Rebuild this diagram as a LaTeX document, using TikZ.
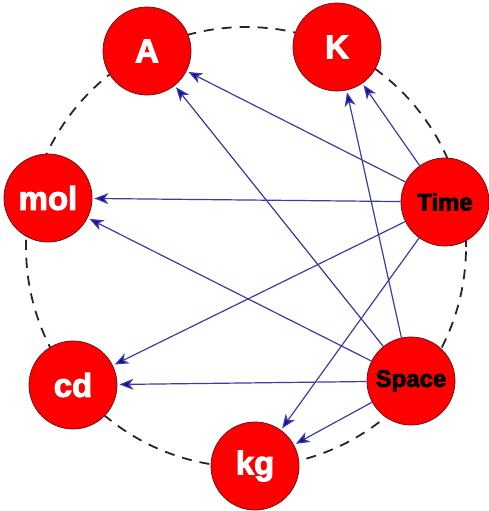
\documentclass[tikz,border=0pt]{standalone}
\usepackage{fontspec}
\setmainfont{Liberation Sans}
\newfontfamily\heavyfont{Liberation Sans Bold}[FakeBold=3]
\usetikzlibrary{arrows.meta}
\definecolor{unitred}{RGB}{255,0,0}
\definecolor{unitedge}{RGB}{110,20,30}
\definecolor{linkblue}{RGB}{60,60,165}
\definecolor{headblue}{RGB}{15,15,165}

\begin{document}
\begin{tikzpicture}[x=1pt,y=-1pt,
  unit/.style={circle,fill=unitred,draw=unitedge,line width=0.8pt,minimum size=88pt,inner sep=0pt,
    text=white,font=\fontsize{33}{33}\heavyfont},
  base/.style={unit,text=black,font=\fontsize{24}{24}\heavyfont},
  link/.style={draw=linkblue,line width=1.2pt,shorten >=2pt,
    -{Stealth[length=14pt,width=11pt,inset=4pt,fill=headblue]}}]
\useasboundingbox (0,0) rectangle (488,511);
\draw[dash pattern=on 10pt off 8pt,line width=1.8pt,black!85] (246,247) circle (220pt);
% units around the ring
\node[unit] (A) at (147,51) {A};
\node[unit] (K) at (337,47) {K};
\node[unit] (mol) at (48,198) {mol};
\node[base] (time) at (445,202) {Time};
\node[unit] (cd) at (73,385) {cd};
\node[base] (space) at (411,381) {Space};
\node[unit] (kg) at (255,466) {kg};
% links from the two base units
\draw[link] (time) -- (A);
\draw[link] (time) -- (K);
\draw[link] (time) -- (mol);
\draw[link] (time) -- (cd);
\draw[link] (time) -- (kg);
\draw[link] (space) -- (A);
\draw[link] (space) -- (K);
\draw[link] (space) -- (mol);
\draw[link] (space) -- (cd);
\draw[link] (space) -- (kg);
\end{tikzpicture}
\end{document}
